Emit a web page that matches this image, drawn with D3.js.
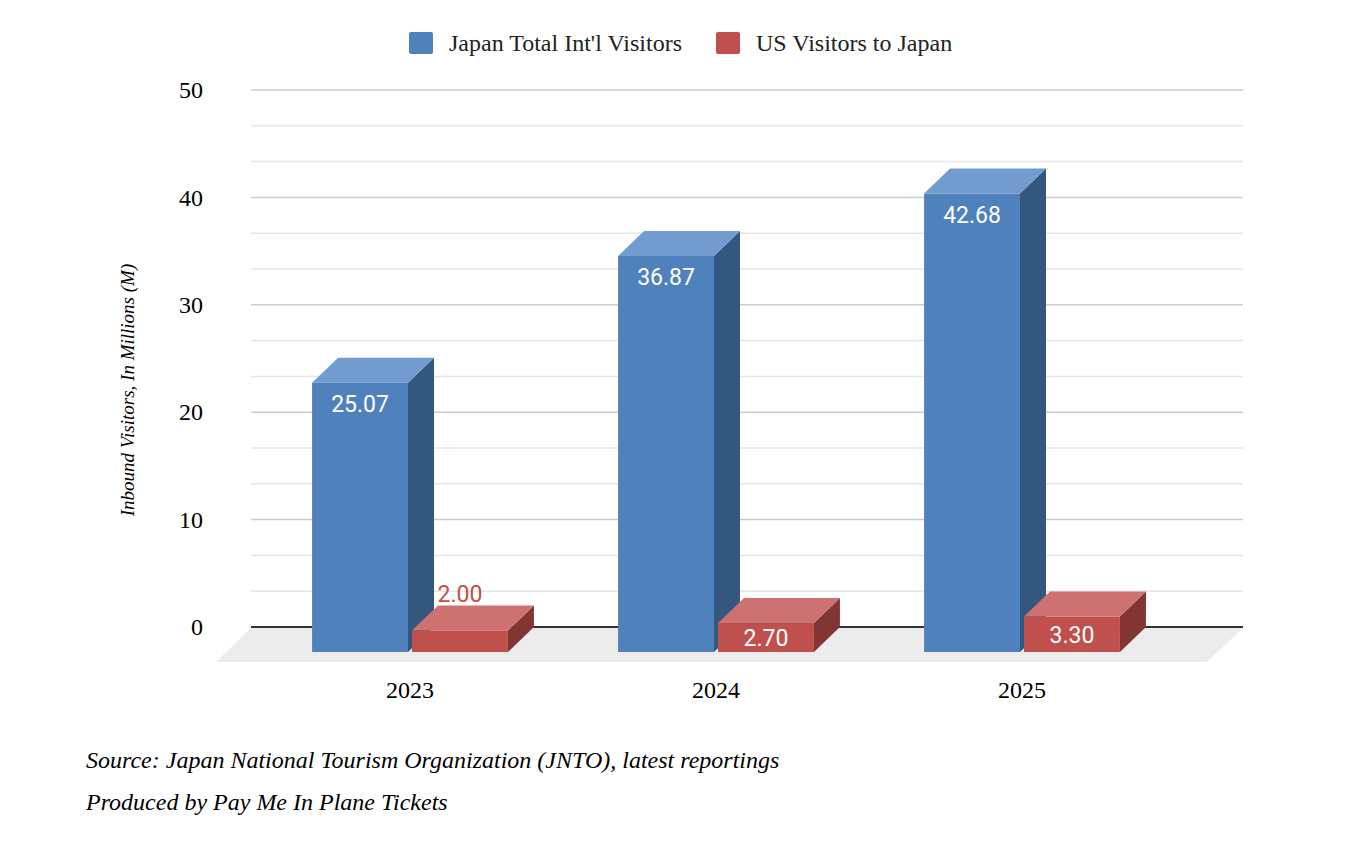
<!DOCTYPE html>
<html>
<head>
  <meta charset="utf-8">
  <script src="https://cdn.jsdelivr.net/npm/d3@7"></script>
  <style>
    body { margin: 0; background: #fff; }
    text { font-family: "Liberation Serif", "Times New Roman", serif; }
    .val { font-family: Roboto, "Noto Sans", sans-serif; }
  </style>
</head>
<body>
<script>
  "use strict";

  // chart data
  var years = ["2023", "2024", "2025"];
  var seriesNames = ["Japan Total Int'l Visitors", "US Visitors to Japan"];
  var totalVisitors = [25.07, 36.87, 42.68];
  var usVisitors = [2.00, 2.70, 3.30];
  var yTicks = [0, 10, 20, 30, 40, 50];

  var W = 1366, H = 858;
  var svg = d3.select("body").append("svg")
    .attr("width", W).attr("height", H);

  // face colours per series: front, top, side
  var faces = [
    { front: "#4f81bd", top: "#729bcf", side: "#34577f" },
    { front: "#c0504d", top: "#cd7270", side: "#833533" }
  ];

  var y = d3.scaleLinear().domain([0, 50]).range([627, 90]);
  var x = d3.scaleBand().domain(years).range([257, 1175])
    .paddingInner(0.36).paddingOuter(0.18);
  var xs = d3.scaleBand().domain([0, 1]).range([0, x.bandwidth()])
    .paddingInner(0.04);

  // depth shift between back plane (scale) and front face
  var dx = 26, dy = 25;
  var gridL = 251, gridR = 1243;

  // floor
  svg.append("path")
    .attr("d", "M" + gridL + "," + (y(0) + 1) + "L" + gridR + "," + (y(0) + 1) +
      "L" + (gridR - 36) + "," + (y(0) + 35) + "L" + (gridL - 35) + "," + (y(0) + 35) + "Z")
    .attr("fill", "#ececec");

  // gridlines: majors every 10, two minors between
  var minor = d3.range(0, 50.01, 10 / 3).filter(function(v) {
    return Math.abs(v / 10 - Math.round(v / 10)) > 0.01;
  });
  svg.append("g").selectAll("line").data(minor).enter().append("line")
    .attr("x1", gridL).attr("x2", gridR)
    .attr("y1", function(d) { return y(d); })
    .attr("y2", function(d) { return y(d); })
    .attr("stroke", "#e6e6e6").attr("stroke-width", 1.5);
  svg.append("g").selectAll("line").data(yTicks.filter(function(d) { return d > 0; }))
    .enter().append("line")
    .attr("x1", gridL).attr("x2", gridR)
    .attr("y1", function(d) { return y(d); })
    .attr("y2", function(d) { return y(d); })
    .attr("stroke", "#cccccc").attr("stroke-width", 1.5);
  svg.append("line")
    .attr("x1", gridL).attr("x2", gridR)
    .attr("y1", y(0)).attr("y2", y(0))
    .attr("stroke", "#333").attr("stroke-width", 2);

  // tick labels
  svg.append("g").selectAll("text").data(yTicks).enter().append("text")
    .attr("x", 203)
    .attr("y", function(d) { return y(d); })
    .attr("dy", "0.34em")
    .attr("text-anchor", "end")
    .style("font-size", "24px")
    .text(function(d) { return d; });

  // axis title
  svg.append("text")
    .attr("transform", "translate(134,390) rotate(-90)")
    .attr("text-anchor", "middle")
    .style("font-size", "19px")
    .style("font-style", "italic")
    .text("Inbound Visitors, In Millions (M)");

  // bars
  var rows = [];
  years.forEach(function(yr, i) {
    rows.push({ year: yr, s: 0, v: totalVisitors[i] });
    rows.push({ year: yr, s: 1, v: usVisitors[i] });
  });

  var bars = svg.append("g").selectAll("g").data(rows).enter().append("g");

  bars.each(function(d) {
    var g = d3.select(this);
    var c = faces[d.s];
    var x0 = x(d.year) + xs(d.s), x1 = x0 + xs.bandwidth();
    var top = y(d.v) + dy, bot = y(0) + dy;

    // side
    g.append("path")
      .attr("d", "M" + x1 + "," + top + "L" + (x1 + dx) + "," + (top - dy) +
        "L" + (x1 + dx) + "," + (bot - dy) + "L" + x1 + "," + bot + "Z")
      .attr("fill", c.side);
    // top
    g.append("path")
      .attr("d", "M" + x0 + "," + top + "L" + (x0 + dx) + "," + (top - dy) +
        "L" + (x1 + dx) + "," + (top - dy) + "L" + x1 + "," + top + "Z")
      .attr("fill", c.top);
    // front
    g.append("rect")
      .attr("x", x0).attr("y", top)
      .attr("width", x1 - x0).attr("height", bot - top)
      .attr("fill", c.front);

    // value label
    var h = bot - top, ly, col = "#fff";
    if (h >= 42) {
      ly = top + 21;
    } else if (h >= 26) {
      ly = top + h / 2;
    } else {
      ly = top - dy - 12;
      col = c.front;
    }
    g.append("text")
      .attr("class", "val")
      .attr("x", (x0 + x1) / 2)
      .attr("y", ly)
      .attr("dy", "0.36em")
      .attr("text-anchor", "middle")
      .attr("fill", col)
      .style("font-size", "23px")
      .text(d3.format(".2f")(d.v));
  });

  // category labels
  svg.append("g").selectAll("text").data(years).enter().append("text")
    .attr("x", function(d) { return x(d) + x.bandwidth() / 2; })
    .attr("y", 698)
    .attr("text-anchor", "middle")
    .style("font-size", "24px")
    .text(function(d) { return d; });

  // legend
  var legX = [409, 716];
  var leg = svg.append("g").selectAll("g").data(seriesNames).enter().append("g")
    .attr("transform", function(d, i) { return "translate(" + legX[i] + ",32)"; });
  leg.append("rect")
    .attr("width", 24).attr("height", 22).attr("rx", 2)
    .attr("fill", function(d, i) { return faces[i].front; });
  leg.append("text")
    .attr("x", 40).attr("y", 11).attr("dy", "0.34em")
    .style("font-size", "24px")
    .attr("fill", "#222")
    .text(function(d) { return d; });

  // notes
  svg.append("text")
    .attr("x", 86).attr("y", 768)
    .style("font-size", "24px").style("font-style", "italic")
    .text("Source: Japan National Tourism Organization (JNTO), latest reportings");
  svg.append("text")
    .attr("x", 86).attr("y", 810)
    .style("font-size", "24px").style("font-style", "italic")
    .text("Produced by Pay Me In Plane Tickets");
</script>
</body>
</html>
